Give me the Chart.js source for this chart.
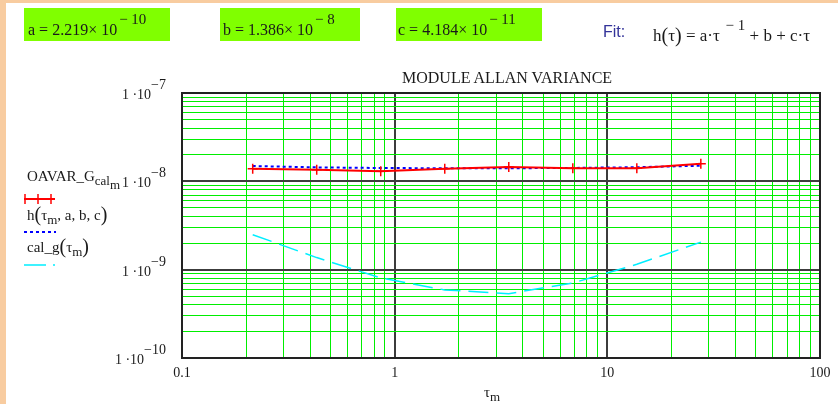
<!DOCTYPE html>
<html>
<head>
<meta charset="utf-8">
<script src="https://cdn.jsdelivr.net/npm/chart.js@4"></script>
<style>
body{margin:0;background:#fff;width:838px;height:404px;overflow:hidden;position:relative;font-family:"Liberation Serif","Times New Roman",serif;color:#1a1a1a;}
.edge{position:absolute;background:#f8cca0;}
.box{position:absolute;top:8px;height:33px;background:#80ff00;}
.t{position:absolute;white-space:nowrap;font-size:16px;line-height:20px;}
.sup{position:relative;top:-11px;font-size:15px;margin-left:2px;}
.sub{position:relative;top:4px;font-size:13px;}
.sub2{position:relative;top:8px;font-size:13px;}
#chart{position:absolute;left:0;top:0;}
#labels{position:absolute;left:0;top:0;width:838px;height:404px;}
.lab{position:absolute;white-space:nowrap;font-size:14px;line-height:16px;}
.lab .sup{font-size:14px;top:-10px;margin-left:0;}
.big{font-size:20px;position:relative;top:1px;}
</style>
</head>
<body>
<div class="edge" style="left:0;top:0;width:838px;height:3px"></div>
<div class="edge" style="left:0;top:0;width:6px;height:404px"></div>
<canvas id="chart" width="838" height="404"></canvas>

<div class="box" style="left:24px;width:146px"></div>
<div class="box" style="left:220px;width:140px"></div>
<div class="box" style="left:396px;width:146px"></div>
<div class="t" style="left:28px;top:20px">a = 2.219× 10<span class="sup">− 10</span></div>
<div class="t" style="left:223px;top:20px">b = 1.386× 10<span class="sup">− 8</span></div>
<div class="t" style="left:398px;top:20px">c = 4.184× 10<span class="sup">− 11</span></div>
<div class="t" style="left:603px;top:22px;font-family:'Liberation Sans',Arial,sans-serif;color:#333399">Fit:</div>
<div class="t" style="left:653px;top:24px;font-size:17px">h<span class="big">(</span>τ<span class="big">)</span> = a·τ<span class="sup"> − 1</span> + b + c·τ</div>

<div class="t" style="left:402px;top:68px;font-size:16px">MODULE ALLAN VARIANCE</div>

<div class="t" style="left:27px;top:166px;font-size:15px">OAVAR_G<span class="sub">cal</span><span class="sub2">m</span></div>
<div class="t" style="left:27px;top:203px;font-size:15px">h<span class="big">(</span>τ<span class="sub">m</span>, a, b, c<span class="big">)</span></div>
<div class="t" style="left:27px;top:235px;font-size:15px">cal_g<span class="big">(</span>τ<span class="sub">m</span><span class="big">)</span></div>
<div class="t" style="left:484px;top:382px;font-size:15px">τ<span class="sub">m</span></div>

<div id="labels"></div>

<script>
const tau = [0.215, 0.43, 0.86, 1.72, 3.44, 6.88, 13.76, 27.52];
const oavar = [1.39e-8, 1.35e-8, 1.30e-8, 1.39e-8, 1.45e-8, 1.41e-8, 1.41e-8, 1.58e-8];
const fitH = [1.490e-8, 1.439e-8, 1.415e-8, 1.406e-8, 1.407e-8, 1.418e-8, 1.445e-8, 1.502e-8];
const calG = [2.49e-9, 1.37e-9, 8.07e-10, 5.9e-10, 5.35e-10, 7.06e-10, 1.15e-9, 2.05e-9];

// axis decades and labels
const xDecades = [0.1, 1, 10, 100];
const xLabels = ['0.1', '1', '10', '100'];
const yDecades = [1e-7, 1e-8, 1e-9, 1e-10];
const yExp = ['−7', '−8', '−9', '−10'];

function gridValues(decades) {
  var out = [];
  var ds = decades.slice().sort(function (a, b) { return a - b; });
  for (var i = 0; i < ds.length - 1; i++) {
    for (var k = 1; k < 10; k++) out.push(ds[i] * k);
  }
  out.push(ds[ds.length - 1]);
  return out;
}
function isDecade(v) {
  var l = Math.log10(v);
  return Math.abs(l - Math.round(l)) < 1e-6;
}
function pts(ys) {
  return tau.map(function (t, i) { return { x: t, y: ys[i] }; });
}

const xGrid = gridValues(xDecades);
const yGrid = gridValues(yDecades);

var gridOpts = {
  color: function (c) { return c.tick && isDecade(c.tick.value) ? '#3c3c3c' : '#00ee00'; },
  lineWidth: function (c) { return c.tick && isDecade(c.tick.value) ? 2 : 1; },
  drawTicks: false
};

var framePlugin = {
  id: 'frame',
  beforeDatasetsDraw: function (chart) {
    var a = chart.chartArea, ctx = chart.ctx;
    ctx.save();
    ctx.strokeStyle = '#222';
    ctx.lineWidth = 2;
    ctx.strokeRect(a.left, a.top, a.right - a.left, a.bottom - a.top);
    ctx.restore();
  },
  afterDraw: function (chart) {
    var ctx = chart.ctx;
    // legend swatches
    ctx.save();
    ctx.strokeStyle = '#ff0000';
    ctx.lineWidth = 2;
    ctx.beginPath(); ctx.moveTo(24, 199); ctx.lineTo(55, 199); ctx.stroke();
    ctx.lineWidth = 1.5;
    [25, 38, 51].forEach(function (x) {
      ctx.beginPath(); ctx.moveTo(x, 194); ctx.lineTo(x, 204); ctx.stroke();
    });
    ctx.strokeStyle = '#0000ff';
    ctx.lineWidth = 2;
    ctx.setLineDash([3, 3]);
    ctx.beginPath(); ctx.moveTo(24, 232); ctx.lineTo(56, 232); ctx.stroke();
    ctx.setLineDash([]);
    ctx.strokeStyle = '#00eeff';
    ctx.lineWidth = 1.5;
    ctx.beginPath(); ctx.moveTo(24, 265); ctx.lineTo(46, 265); ctx.moveTo(53, 265); ctx.lineTo(55, 265); ctx.stroke();
    ctx.restore();

    // tick labels as html
    var box = document.getElementById('labels');
    box.innerHTML = '';
    var xs = chart.scales.x, ys = chart.scales.y;
    yDecades.forEach(function (v, i) {
      var el = document.createElement('div');
      el.className = 'lab';
      el.innerHTML = '1 ·10<span class="sup">' + yExp[i] + '</span>';
      el.style.right = (838 - (xs.left - 16)) + 'px';
      el.style.top = (ys.getPixelForValue(v) - 6) + 'px';
      box.appendChild(el);
    });
    xDecades.forEach(function (v, i) {
      var el = document.createElement('div');
      el.className = 'lab';
      el.textContent = xLabels[i];
      el.style.left = xs.getPixelForValue(v) + 'px';
      el.style.top = (ys.bottom + 7) + 'px';
      el.style.transform = 'translateX(-50%)';
      box.appendChild(el);
    });
  }
};

var ctx = document.getElementById('chart').getContext('2d');
var chart = new Chart(ctx, {
  type: 'line',
  data: {
    datasets: [{
      data: pts(oavar),
      borderColor: '#ff0000',
      borderWidth: 2,
      pointStyle: 'cross',
      pointRadius: 5,
      pointBorderWidth: 1.5,
      pointBorderColor: '#ff0000',
      fill: false
    }, {
      data: pts(fitH),
      borderColor: '#0000ff',
      borderWidth: 2,
      borderDash: [3, 3],
      pointRadius: 0,
      fill: false
    }, {
      data: pts(calG),
      borderColor: '#00eeff',
      borderWidth: 1.5,
      borderDash: [20, 8],
      pointRadius: 0,
      fill: false
    }]
  },
  options: {
    responsive: false,
    animation: false,
    layout: { padding: { left: 182, right: 18, top: 93, bottom: 46 } },
    plugins: { legend: { display: false }, tooltip: { enabled: false }, title: { display: false } },
    scales: {
      x: {
        type: 'logarithmic',
        min: 0.1, max: 100,
        afterBuildTicks: function (s) { s.ticks = xGrid.map(function (v) { return { value: v }; }); },
        ticks: { display: false },
        grid: gridOpts,
        border: { display: false }
      },
      y: {
        type: 'logarithmic',
        min: 1e-10, max: 1e-7,
        afterBuildTicks: function (s) { s.ticks = yGrid.map(function (v) { return { value: v }; }); },
        ticks: { display: false },
        grid: gridOpts,
        border: { display: false }
      }
    }
  },
  plugins: [framePlugin]
});
</script>
</body>
</html>
